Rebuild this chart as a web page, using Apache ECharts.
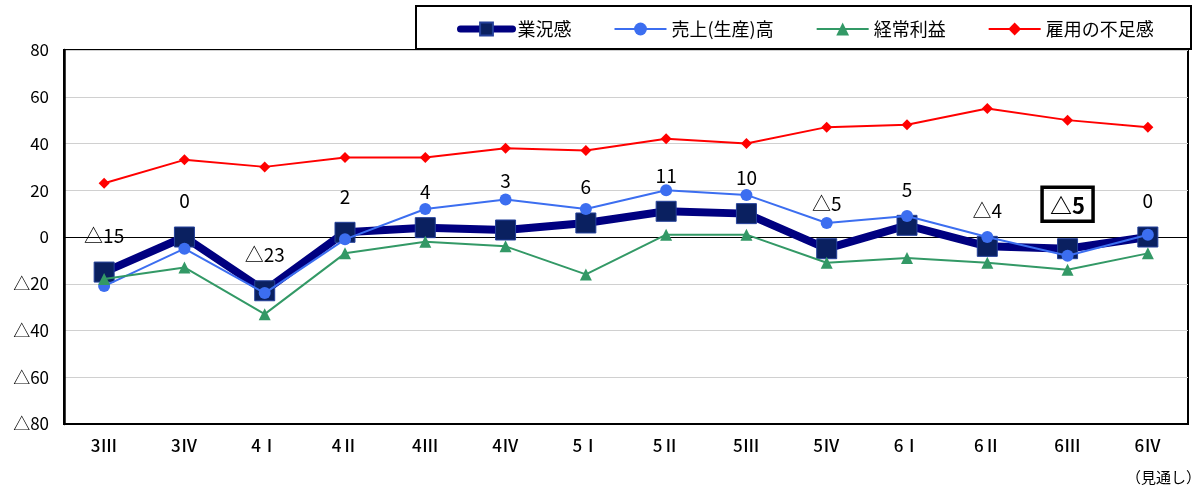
<!DOCTYPE html>
<html>
<head>
<meta charset="utf-8">
<script src="https://cdn.jsdelivr.net/npm/echarts@6/dist/echarts.min.js"></script>
<style>
html,body{margin:0;padding:0;background:#fff;}
#main{width:1193px;height:492px;}
</style>
</head>
<body>
<div id="main"></div>
<script>
// 期（四半期）
var categories = ['3Ⅲ', '3Ⅳ', '4Ⅰ', '4Ⅱ', '4Ⅲ', '4Ⅳ', '5Ⅰ', '5Ⅱ', '5Ⅲ', '5Ⅳ', '6Ⅰ', '6Ⅱ', '6Ⅲ', '6Ⅳ'];
var gyokyo = [-15, 0, -23, 2, 4, 3, 6, 11, 10, -5, 5, -4, -5, 0];        // 業況感
var uriage = [-21, -5, -24, -1, 12, 16, 12, 20, 18, 6, 9, 0, -8, 1];      // 売上(生産)高
var keijo = [-18, -13, -33, -7, -2, -4, -16, 1, 1, -11, -9, -11, -14, -7]; // 経常利益
var koyo = [23, 33, 30, 34, 34, 38, 37, 42, 40, 47, 48, 55, 50, 47];      // 雇用の不足感
var yTicks = [-80, -60, -40, -20, 0, 20, 40, 60, 80];
var seriesNames = ['業況感', '売上(生産)高', '経常利益', '雇用の不足感'];
var highlightIndex = 12;   // 枠付きラベル
var raisedLabels = {5: 13, 9: 9}; // 線と重ならないよう少し上げたラベル

var FONT = 'Noto Sans CJK JP';

function tri(v){
	return v < 0 ? '△' + (-v) : String(v);
}

var chart = echarts.init(document.getElementById('main'));

var gyokyoData = gyokyo.map(function(v, i){
	if(i === highlightIndex){
		return {
			value: v,
			label: {
				fontWeight: 'bold',
				fontSize: 22,
				borderColor: '#000',
				borderWidth: 3.5,
				padding: [7, 8, 5, 8],
				distance: 17
			}
		};
	}
	if(raisedLabels[i]){
		return { value: v, label: { distance: 16 + raisedLabels[i] } };
	}
	return v;
});

var option = {
	animation: false,
	backgroundColor: '#fff',
	textStyle: { fontFamily: FONT },
	graphic: [
		{
			type: 'rect',
			left: 415, top: 5,
			shape: { width: 775, height: 43 },
			style: { fill: '#fff', stroke: '#000', lineWidth: 2 },
			z: -1
		},
		{
			type: 'text',
			left: 1126, top: 470,
			style: { text: '（見通し）', font: '15px "Noto Sans CJK JP"', fill: '#000' }
		}
	],
	legend: {
		left: 452,
		top: 15,
		itemWidth: 52,
		itemHeight: 16,
		itemGap: 42,
		textStyle: { fontSize: 18, color: '#000', fontFamily: FONT },
		data: [
			{ name: seriesNames[0], lineStyle: { width: 7, cap: 'round' } },
			{ name: seriesNames[1] },
			{ name: seriesNames[2] },
			{ name: seriesNames[3] }
		]
	},
	grid: {
		left: 64, right: 5, top: 50, bottom: 68,
		show: true,
		borderColor: '#000',
		borderWidth: 2,
		containLabel: false
	},
	xAxis: {
		type: 'category',
		data: categories,
		boundaryGap: true,
		axisLine: { show: true, onZero: false, lineStyle: { color: '#000', width: 2 } },
		axisTick: { show: false },
		axisLabel: { color: '#000', fontSize: 17, fontWeight: 500, margin: 13, fontFamily: FONT }
	},
	yAxis: {
		type: 'value',
		min: yTicks[0],
		max: yTicks[yTicks.length - 1],
		interval: 20,
		axisLine: { show: true, lineStyle: { color: '#000', width: 2.5 } },
		axisTick: { show: false },
		splitLine: { lineStyle: { color: '#D0D0D0', width: 1 } },
		axisLabel: {
			color: '#000', fontSize: 17, margin: 15, fontFamily: FONT,
			formatter: function(v){ return tri(v); }
		}
	},
	series: [
		{
			name: seriesNames[0],
			type: 'line',
			data: gyokyoData,
			color: '#000080',
			symbol: 'rect',
			symbolSize: 20,
			lineStyle: { color: '#000080', width: 8 },
			itemStyle: { color: '#0A2060', borderColor: '#24409A', borderWidth: 1 },
			label: {
				show: true,
				position: 'top',
				distance: 16,
				fontSize: 19,
				color: '#000',
				fontFamily: FONT,
				formatter: function(p){ return tri(p.value); }
			},
			markLine: {
				silent: true,
				symbol: 'none',
				label: { show: false },
				lineStyle: { color: '#000', width: 1, type: 'solid' },
				data: [{ yAxis: 0 }],
				z: 1
			},
			z: 2
		},
		{
			name: seriesNames[1],
			type: 'line',
			data: uriage,
			color: '#3C6EF0',
			symbol: 'circle',
			symbolSize: 12,
			lineStyle: { color: '#3C6EF0', width: 2 },
			itemStyle: { color: '#3C6EF0' },
			z: 3
		},
		{
			name: seriesNames[2],
			type: 'line',
			data: keijo,
			color: '#339966',
			symbol: 'triangle',
			symbolSize: 12,
			lineStyle: { color: '#339966', width: 2 },
			itemStyle: { color: '#339966' },
			z: 3
		},
		{
			name: seriesNames[3],
			type: 'line',
			data: koyo,
			color: '#FF0000',
			symbol: 'diamond',
			symbolSize: 11,
			lineStyle: { color: '#FF0000', width: 2 },
			itemStyle: { color: '#FF0000' },
			z: 3
		}
	]
};

chart.setOption(option);
</script>
</body>
</html>
